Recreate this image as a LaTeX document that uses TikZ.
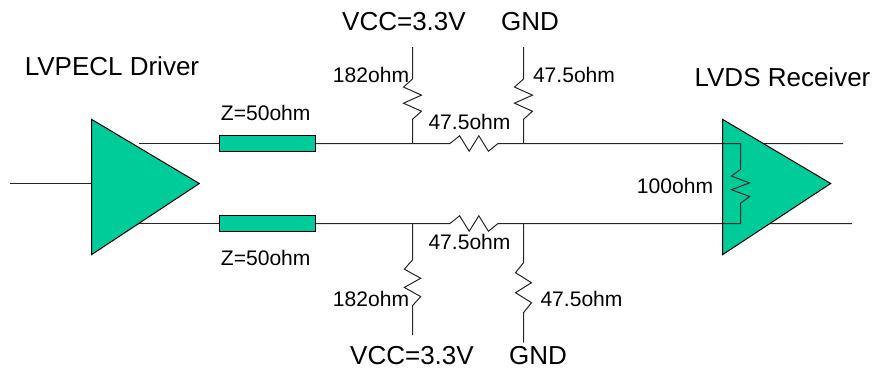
\documentclass[tikz,border=0pt]{standalone}
\usepackage{fontspec}
\setmainfont{Liberation Sans}
\usetikzlibrary{calc}

\tikzset{
  wire/.style={line width=.75pt,color=black!85},
  buffer/.style={fill=lineteal,draw=black,line width=.75pt,line join=miter},
  tline/.style={fill=lineteal,draw=black,line width=.75pt,inner sep=0pt,
      minimum width=72pt,minimum height=12pt},
  biglabel/.style={anchor=base,inner sep=0pt,font=\fontsize{19.5}{22}\selectfont},
  smalllabel/.style={anchor=base,inner sep=0pt,font=\fontsize{15.8}{18}\selectfont},
  res/.style 2 args={to path={%
      -- ($(\tikztostart)!.2!(\tikztotarget)+(-#1,-#2)$)%
      -- ($(\tikztostart)!.4!(\tikztotarget)+(#1,#2)$)%
      -- ($(\tikztostart)!.6!(\tikztotarget)+(-#1,-#2)$)%
      -- ($(\tikztostart)!.8!(\tikztotarget)+(#1,#2)$)%
      -- (\tikztotarget)}}
}
\definecolor{lineteal}{RGB}{0,204,153}

\begin{document}
\begin{tikzpicture}[x=.75pt,y=-.75pt]
  \def\wiretop{143.5}
  \def\wirebot{223.5}
  \def\vccx{412.5}
  \def\gndx{523.5}

  \useasboundingbox (0,0) rectangle (878,368);

  \coordinate (in) at (10,183.5);
  \coordinate (drv in) at (91,183.5);
  \coordinate (drv top) at (139,\wiretop);
  \coordinate (drv bot) at (139,\wirebot);
  \coordinate (vcc top) at (\vccx,\wiretop);
  \coordinate (gnd top) at (\gndx,\wiretop);
  \coordinate (vcc bot) at (\vccx,\wirebot);
  \coordinate (gnd bot) at (\gndx,\wirebot);
  \coordinate (out top) at (843,\wiretop);
  \coordinate (out bot) at (852,\wirebot);

  \node[tline] (line top) at (267.5,\wiretop) {};
  \node[tline] (line bot) at (267.5,\wirebot) {};

  \draw[wire] (in) -- (drv in);
  \draw[wire] (drv top) -- (line top.west);
  \draw[wire] (drv bot) -- (line bot.west);

  \draw[wire] (line top.east) -- (vcc top) -- (450,\wiretop)
      to[res={0}{7.7}] (498,\wiretop) -- (gnd top) -- (out top);
  \draw[wire] (line bot.east) -- (vcc bot) -- (450,\wirebot)
      to[res={0}{7.7}] (498,\wirebot) -- (gnd bot) -- (out bot);

  \draw[wire] (\vccx,47) -- (\vccx,79) to[res={9}{0}] (\vccx,119.3) -- (vcc top);
  \draw[wire] (\gndx,47) -- (\gndx,79) to[res={9}{0}] (\gndx,119.3) -- (gnd top);
  \draw[wire] (vcc bot) -- (\vccx,260) to[res={8.2}{0}] (\vccx,305.7) -- (\vccx,335);
  \draw[wire] (gnd bot) -- (\gndx,262.7) to[res={8}{0}] (\gndx,312.7) -- (\gndx,342.7);

  \draw[buffer] (91.5,119.3) -- (199.3,183.5) -- (91.5,254.7) -- cycle;
  \draw[buffer] (722.5,119.3) -- (830.7,183.5) -- (722.5,254.7) -- cycle;

  \coordinate (rx top) at (722.5,\wiretop);
  \coordinate (rx bot) at (722.5,\wirebot);
  \draw[wire] (rx top) -- (740.5,\wiretop) -- (740.5,169.3)
      to[res={9}{0}] (740.5,203.3) -- (740.5,\wirebot) -- (rx bot);

  \node[biglabel] (driver label) at (112,75) {LVPECL Driver};
  \node[biglabel] (receiver label) at (782.5,86) {LVDS Receiver};
  \node[biglabel] (vcc label top) at (404,30) {VCC=3.3V};
  \node[biglabel] (gnd label top) at (530,30) {GND};
  \node[biglabel] (vcc label bot) at (412,364.8) {VCC=3.3V};
  \node[biglabel] (gnd label bot) at (538,364.8) {GND};

  \node[smalllabel] (z label top) at (265.7,120.7) {Z=50ohm};
  \node[smalllabel] (z label bot) at (265.7,265) {Z=50ohm};
  \node[smalllabel] (r label a) at (371,82) {182ohm};
  \node[smalllabel] (r label b) at (574,82) {47.5ohm};
  \node[smalllabel] (r label c) at (469.5,129) {47.5ohm};
  \node[smalllabel] (r label d) at (469.5,249.3) {47.5ohm};
  \node[smalllabel] (r label e) at (371,306) {182ohm};
  \node[smalllabel] (r label f) at (581.5,306) {47.5ohm};
  \node[smalllabel] (r label g) at (675,193) {100ohm};
\end{tikzpicture}
\end{document}
